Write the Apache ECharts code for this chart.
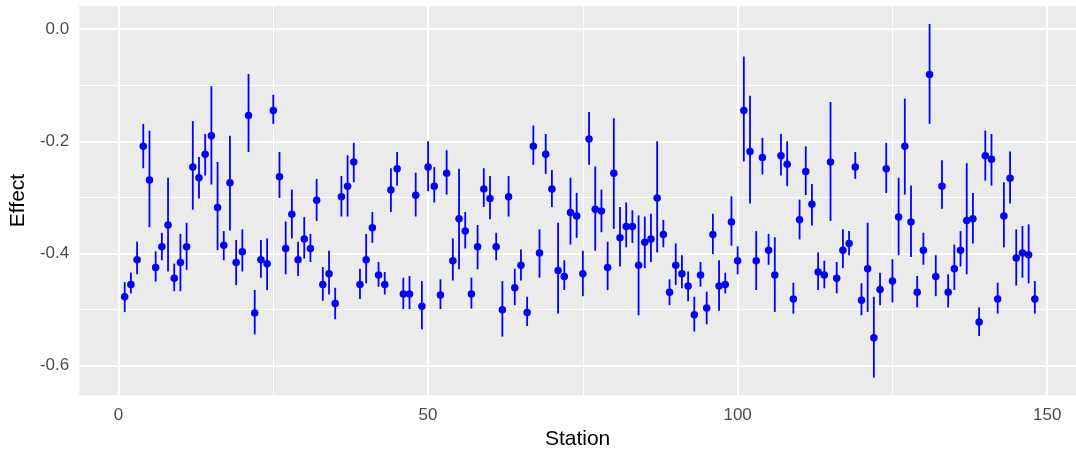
<!DOCTYPE html>
<html lang="en">

<head>
    <meta charset="UTF-8">
    <title>Effect by Station</title>
    <style>
        html, body { margin: 0; padding: 0; background: #fff; }
    </style>
</head>

<body>
    <div id="main" style="width: 1076px; height: 459px;"></div>

    <script src="https://cdn.jsdelivr.net/npm/echarts@6/dist/echarts.min.js"></script>
    <script>
        // estimated effect, lower and upper bound per station (1..148)
        const effect = [
            -0.477, -0.455, -0.411, -0.209, -0.269, -0.425, -0.388, -0.349, -0.444, -0.416,
            -0.388, -0.246, -0.265, -0.223, -0.190, -0.318, -0.385, -0.274, -0.416, -0.397,
            -0.154, -0.506, -0.411, -0.418, -0.145, -0.263, -0.391, -0.330, -0.411, -0.374,
            -0.391, -0.305, -0.455, -0.436, -0.489, -0.299, -0.280, -0.237, -0.455, -0.411,
            -0.354, -0.438, -0.455, -0.287, -0.249, -0.472, -0.472, -0.296, -0.494, -0.246,
            -0.280, -0.474, -0.257, -0.413, -0.338, -0.360, -0.472, -0.388, -0.285, -0.302,
            -0.388, -0.500, -0.299, -0.461, -0.421, -0.505, -0.209, -0.399, -0.223, -0.285,
            -0.430, -0.441, -0.327, -0.333, -0.436, -0.196, -0.321, -0.324, -0.425, -0.257,
            -0.372, -0.352, -0.352, -0.421, -0.380, -0.374, -0.301, -0.366, -0.469, -0.421,
            -0.436, -0.458, -0.509, -0.438, -0.497, -0.366, -0.458, -0.455, -0.344, -0.413,
            -0.145, -0.218, -0.413, -0.229, -0.394, -0.438, -0.226, -0.241, -0.481, -0.340,
            -0.254, -0.312, -0.433, -0.438, -0.237, -0.444, -0.394, -0.382, -0.246, -0.483,
            -0.427, -0.550, -0.464, -0.249, -0.449, -0.335, -0.209, -0.344, -0.469, -0.394,
            -0.081, -0.441, -0.280, -0.469, -0.427, -0.394, -0.341, -0.338, -0.522, -0.226,
            -0.232, -0.481, -0.333, -0.266, -0.408, -0.399, -0.402, -0.481
        ];
        const lower = [
            -0.504, -0.471, -0.437, -0.248, -0.353, -0.450, -0.412, -0.432, -0.467, -0.467,
            -0.429, -0.322, -0.302, -0.261, -0.277, -0.394, -0.412, -0.359, -0.456, -0.432,
            -0.219, -0.544, -0.443, -0.465, -0.169, -0.301, -0.437, -0.373, -0.440, -0.409,
            -0.415, -0.342, -0.484, -0.473, -0.517, -0.334, -0.334, -0.273, -0.481, -0.453,
            -0.381, -0.459, -0.473, -0.326, -0.279, -0.499, -0.499, -0.334, -0.535, -0.289,
            -0.309, -0.499, -0.295, -0.448, -0.428, -0.391, -0.498, -0.428, -0.317, -0.339,
            -0.412, -0.548, -0.334, -0.492, -0.448, -0.529, -0.242, -0.443, -0.258, -0.317,
            -0.507, -0.465, -0.384, -0.372, -0.476, -0.242, -0.395, -0.362, -0.465, -0.356,
            -0.423, -0.389, -0.381, -0.510, -0.426, -0.415, -0.398, -0.389, -0.492, -0.456,
            -0.462, -0.485, -0.539, -0.459, -0.526, -0.401, -0.502, -0.471, -0.386, -0.437,
            -0.236, -0.311, -0.465, -0.259, -0.420, -0.504, -0.261, -0.280, -0.507, -0.375,
            -0.296, -0.350, -0.465, -0.462, -0.342, -0.471, -0.426, -0.403, -0.267, -0.510,
            -0.504, -0.621, -0.492, -0.292, -0.487, -0.403, -0.295, -0.406, -0.496, -0.420,
            -0.169, -0.476, -0.320, -0.496, -0.465, -0.423, -0.437, -0.382, -0.547, -0.270,
            -0.279, -0.507, -0.389, -0.311, -0.457, -0.443, -0.453, -0.507
        ];
        const upper = [
            -0.451, -0.434, -0.379, -0.169, -0.181, -0.396, -0.363, -0.265, -0.418, -0.365,
            -0.345, -0.164, -0.228, -0.187, -0.102, -0.237, -0.360, -0.190, -0.376, -0.357,
            -0.080, -0.465, -0.376, -0.373, -0.117, -0.219, -0.343, -0.286, -0.379, -0.335,
            -0.365, -0.267, -0.424, -0.395, -0.461, -0.262, -0.225, -0.203, -0.427, -0.365,
            -0.326, -0.415, -0.433, -0.248, -0.219, -0.443, -0.440, -0.256, -0.449, -0.200,
            -0.246, -0.446, -0.216, -0.373, -0.249, -0.326, -0.443, -0.349, -0.248, -0.262,
            -0.363, -0.449, -0.262, -0.427, -0.393, -0.477, -0.172, -0.357, -0.187, -0.251,
            -0.345, -0.412, -0.265, -0.292, -0.395, -0.148, -0.245, -0.286, -0.379, -0.159,
            -0.317, -0.309, -0.323, -0.332, -0.334, -0.329, -0.200, -0.340, -0.446, -0.382,
            -0.403, -0.432, -0.477, -0.415, -0.468, -0.329, -0.412, -0.434, -0.298, -0.387,
            -0.049, -0.119, -0.360, -0.194, -0.365, -0.371, -0.187, -0.200, -0.452, -0.304,
            -0.209, -0.276, -0.398, -0.413, -0.130, -0.415, -0.357, -0.360, -0.219, -0.453,
            -0.345, -0.477, -0.434, -0.203, -0.410, -0.265, -0.124, -0.279, -0.440, -0.363,
            0.009, -0.403, -0.234, -0.437, -0.384, -0.360, -0.239, -0.292, -0.496, -0.181,
            -0.187, -0.452, -0.273, -0.218, -0.357, -0.351, -0.348, -0.449
        ];
        const station = effect.map(function (v, i) { return i + 1; });

        // axis breaks
        const xBreaks = [0, 50, 100, 150];
        const xMinorBreaks = [25, 75, 125];
        const yBreaks = [-0.6, -0.4, -0.2, 0.0];
        const yMinorBreaks = [-0.5, -0.3, -0.1];

        const labelFont = 'Liberation Sans, Arial, sans-serif';

        let gridLines = [];
        yBreaks.forEach(function (v) { gridLines.push({ yAxis: v, lineStyle: { width: 2 } }); });
        yMinorBreaks.forEach(function (v) { gridLines.push({ yAxis: v, lineStyle: { width: 1 } }); });
        xBreaks.forEach(function (v) { gridLines.push({ xAxis: v, lineStyle: { width: 2 } }); });
        xMinorBreaks.forEach(function (v) { gridLines.push({ xAxis: v, lineStyle: { width: 1 } }); });

        let chart = echarts.init(document.getElementById('main'));
        chart.setOption({
            animation: false,
            grid: {
                left: 79, right: 0, top: 6, bottom: 64,
                show: true,
                backgroundColor: '#EBEBEB',
                borderWidth: 0
            },
            xAxis: {
                type: 'value',
                min: -6.35,
                max: 154.65,
                name: 'Station',
                nameLocation: 'middle',
                nameGap: 33,
                nameTextStyle: { color: '#000', fontSize: 21, fontFamily: labelFont },
                axisLine: { show: false },
                axisTick: { show: true, length: 5, customValues: xBreaks, lineStyle: { color: '#333', width: 1.5 } },
                axisLabel: { customValues: xBreaks, color: '#4D4D4D', fontSize: 17, fontFamily: labelFont, margin: 12 },
                splitLine: { show: false }
            },
            yAxis: {
                type: 'value',
                min: -0.652,
                max: 0.041,
                name: 'Effect',
                nameLocation: 'middle',
                nameGap: 50,
                nameTextStyle: { color: '#000', fontSize: 21, fontFamily: labelFont },
                axisLine: { show: false },
                axisTick: { show: true, length: 5, customValues: yBreaks, lineStyle: { color: '#333', width: 1.5 } },
                axisLabel: {
                    customValues: yBreaks,
                    color: '#4D4D4D', fontSize: 17, fontFamily: labelFont, margin: 10,
                    formatter: function (v) { return v.toFixed(1); }
                },
                splitLine: { show: false }
            },
            series: [
                {
                    // panel grid lines, kept under the marks
                    type: 'scatter',
                    data: [],
                    z: 1,
                    silent: true,
                    markLine: {
                        z: 1,
                        silent: true,
                        symbol: 'none',
                        animation: false,
                        label: { show: false },
                        lineStyle: { color: '#FFFFFF', type: 'solid' },
                        emphasis: { disabled: true },
                        data: gridLines
                    }
                },
                {
                    // error bars
                    type: 'custom',
                    z: 6,
                    data: station.map(function (s, i) { return [s, lower[i], upper[i]]; }),
                    renderItem: function (params, api) {
                        let lo = api.coord([api.value(0), api.value(1)]);
                        let hi = api.coord([api.value(0), api.value(2)]);
                        return {
                            type: 'line',
                            shape: { x1: lo[0], y1: lo[1], x2: hi[0], y2: hi[1] },
                            style: { stroke: '#0000FF', lineWidth: 1.8 }
                        };
                    }
                },
                {
                    type: 'scatter',
                    z: 7,
                    symbolSize: 7.5,
                    itemStyle: { color: '#0000FF', opacity: 1 },
                    data: station.map(function (s, i) { return [s, effect[i]]; })
                }
            ]
        });
    </script>
</body>

</html>
